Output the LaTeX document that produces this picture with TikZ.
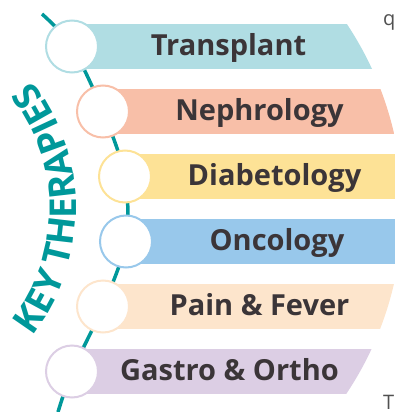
\documentclass[tikz,border=0pt]{standalone}
\usepackage{fontspec}
\setmainfont{Open Sans}
\usetikzlibrary{decorations.text}
\definecolor{teal1}{RGB}{0,152,154}
\definecolor{txt}{RGB}{59,53,56}
\definecolor{cA}{RGB}{176,221,227}
\definecolor{cB}{RGB}{248,191,168}
\definecolor{cC}{RGB}{253,226,150}
\definecolor{cD}{RGB}{152,200,235}
\definecolor{cE}{RGB}{253,229,204}
\definecolor{cF}{RGB}{220,206,228}
\definecolor{stray}{RGB}{80,80,80}
\tikzset{
  ring/.style={circle, minimum size=52pt, inner sep=0pt, line width=2pt, fill=white},
  lbl/.style={anchor=base, text=txt, inner sep=0pt, font=\fontsize{29}{29}\selectfont\bfseries},
  spine/.style={teal1, line width=3.5pt},
}
\begin{document}
\begin{tikzpicture}[x=1pt,y=-1pt]
\useasboundingbox (0,0) rectangle (394,412);
\coordinate (top) at (42,14);
\coordinate (bot) at (58,412);
% bars clipped by big arc
\begin{scope}
\clip (69,208.5) circle[radius=333.5pt];
\fill[cA] (72,24) rectangle (420,69);
\fill[cB] (103,89) rectangle (420,134);
\fill[cC] (125,154) rectangle (420,199);
\fill[cD] (126,219) rectangle (420,264);
\fill[cE] (103,284) rectangle (420,329);
\fill[cF] (72,349) rectangle (420,394);
\end{scope}
\path (72,46.5) coordinate (p1) (103,111.5) coordinate (p2) (125,176.5) coordinate (p3)
      (126,241.5) coordinate (p4) (103,306.5) coordinate (p5) (72,371.5) coordinate (p6);
\draw[spine] plot[smooth, tension=0.5] coordinates {(top) (p1) (p2) (p3) (p4) (p5) (p6) (bot)};
\node[ring, draw=cA] (r1) at (p1) {};
\node[ring, draw=cB] (r2) at (p2) {};
\node[ring, draw=cC] (r3) at (p3) {};
\node[ring, draw=cD] (r4) at (p4) {};
\node[ring, draw=cE] (r5) at (p5) {};
\node[ring, draw=cF] (r6) at (p6) {};
\node[lbl] (t1) at (228.5,55.5) {Transplant};
\node[lbl] (t2) at (259.5,120.5) {Nephrology};
\node[lbl] (t3) at (274.5,185.5) {Diabetology};
\node[lbl] (t4) at (277,250.5) {Oncology};
\node[lbl] (t5) at (259.5,315.5) {Pain \& Fever};
\node[lbl] (t6) at (229.5,380.5) {Gastro \& Ortho};
% curved title
\coordinate (tc) at (-131,208.5);
\path[decorate, decoration={text along path, text align=center,
   text color=teal1, text format delimiters={|}{|},
   text={|\fontsize{37}{37}\selectfont\bfseries|KEY THERAPIES}}]
   (tc) ++(-46:207pt) arc[start angle=-46, end angle=46, radius=207pt];
% stray fragments
\node[anchor=base west, text=stray, inner sep=0pt, font=\fontsize{20}{20}\selectfont] (q) at (383,26) {q};
\node[anchor=base west, text=stray, inner sep=0pt, font=\fontsize{20}{20}\selectfont] (T) at (383,409) {T};
\end{tikzpicture}
\end{document}
